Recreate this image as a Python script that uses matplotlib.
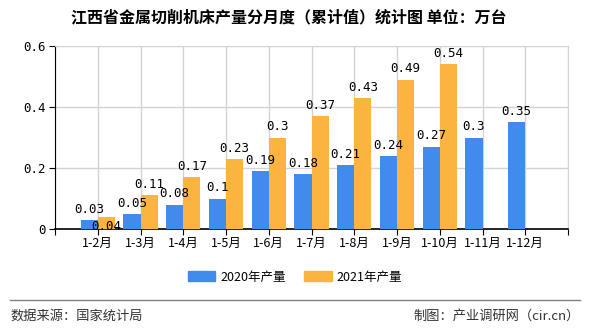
import numpy as np
from matplotlib import pyplot as plt
from matplotlib.patches import Patch

plt.rcParams['font.family'] = ['Noto Sans CJK SC', 'DejaVu Sans']

months = ["1-2月", "1-3月", "1-4月", "1-5月", "1-6月", "1-7月", "1-8月",
          "1-9月", "1-10月", "1-11月", "1-12月"]
prod_2020 = [0.03, 0.05, 0.08, 0.1, 0.19, 0.18, 0.21, 0.24, 0.27, 0.3, 0.35]
prod_2021 = [0.04, 0.11, 0.17, 0.23, 0.3, 0.37, 0.43, 0.49, 0.54, np.nan, np.nan]

BLUE = "#418bec"
ORANGE = "#fcb441"

fig = plt.figure(figsize=(5.9, 3.3), dpi=100)
ax = fig.add_axes([55 / 590, 1 - 229 / 330, 513 / 590, 183 / 330])

x = np.arange(1, len(months) + 1)
w = 0.4
ax.bar(x - w / 2, prod_2020, w, color=BLUE, zorder=3)
ax.bar(x + w / 2, prod_2021, w, color=ORANGE, zorder=3)

lab_font = dict(family='DejaVu Sans Mono', fontsize=9, ha='center')
for xi, v in zip(x, prod_2020):
    ax.annotate(f"{v:g}", (xi - w / 2, v), xytext=(0, 3), textcoords='offset points',
                va='bottom', **lab_font)
for i, (xi, v) in enumerate(zip(x, prod_2021)):
    if np.isnan(v):
        continue
    if i == 0:
        # the first label sits at the foot of its bar in the original
        ax.annotate(f"{v:g}", (xi + w / 2, 0), xytext=(0, -3), textcoords='offset points',
                    va='bottom', **lab_font)
    else:
        ax.annotate(f"{v:g}", (xi + w / 2, v), xytext=(0, 3), textcoords='offset points',
                    va='bottom', **lab_font)

ax.set_xlim(0, 12)
ax.set_ylim(0, 0.6)
ax.set_xticks(np.arange(0, 13))
ax.set_xticklabels([""] + months + [""], fontsize=9)
ax.set_yticks([0, 0.2, 0.4, 0.6])
ax.set_yticklabels(["0", "0.2", "0.4", "0.6"], family='DejaVu Sans Mono', fontsize=9)
ax.grid(True, color="#d3d3d3", linewidth=1, zorder=0)
ax.tick_params(axis='x', length=4, color='black', pad=2)
ax.tick_params(axis='y', length=4, color='black', pad=3)
for s in ['top', 'right']:
    ax.spines[s].set_color("#d3d3d3")
ax.spines['left'].set_color('black')
ax.spines['bottom'].set_color('black')
ax.spines['bottom'].set_linewidth(1.2)

fig.text(0.49, 1 - 17 / 330, "江西省金属切削机床产量分月度（累计值）统计图 单位：万台",
         ha='center', va='center', fontsize=11.5, weight='bold')

handles = [Patch(color=BLUE, label="2020年产量"), Patch(color=ORANGE, label="2021年产量")]
fig.legend(handles=handles, loc='center', bbox_to_anchor=(0.5, 1 - 277 / 330), ncol=2,
           frameon=False, fontsize=9, handlelength=2.2, handleheight=0.8,
           columnspacing=1.5, handletextpad=0.4)

fig.add_artist(plt.Line2D([10 / 590, 580 / 590], [1 - 300 / 330] * 2, color='#808080',
                          linewidth=1, transform=fig.transFigure))
fig.text(10 / 590, 1 - 316 / 330, "数据来源：国家统计局", ha='left', va='center',
         fontsize=9.5, color='#333333')
fig.text(580 / 590, 1 - 316 / 330, "制图：产业调研网（cir.cn）", ha='right', va='center',
         fontsize=9.5, color='#333333')

fig.savefig("out.png", dpi=100)
